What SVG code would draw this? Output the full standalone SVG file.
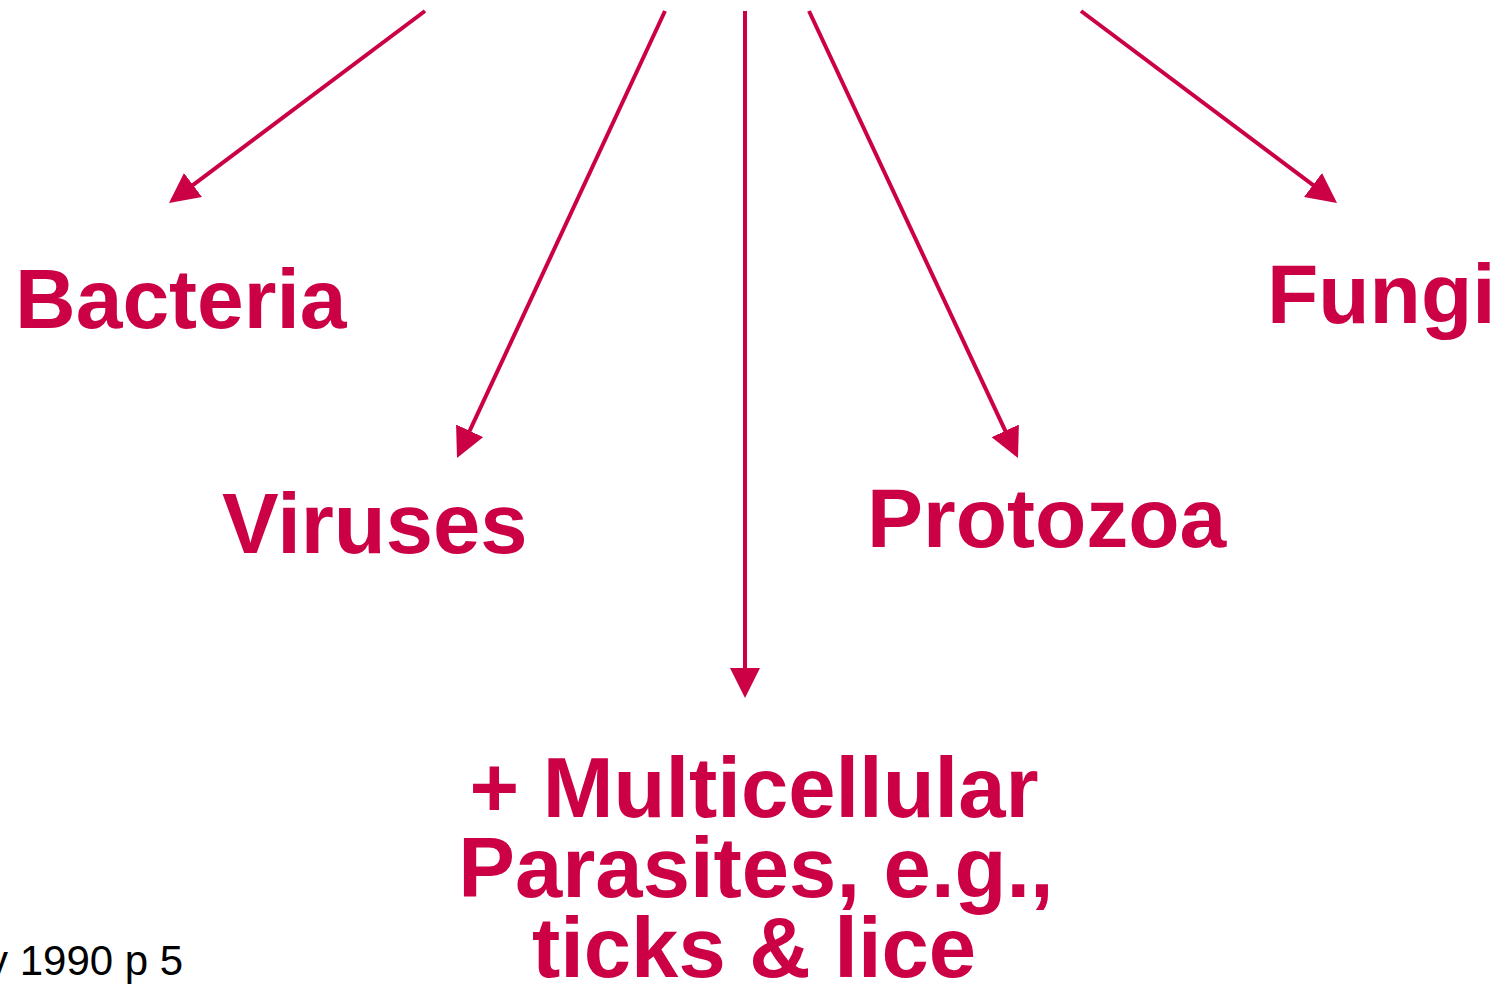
<svg xmlns="http://www.w3.org/2000/svg" width="1503" height="984" viewBox="0 0 1503 984">
<style>
.lbl{font-family:"Liberation Sans",Arial,sans-serif;font-weight:bold;font-size:84px;fill:#CC0044}
.big{font-size:85px}
.note{font-family:"Liberation Sans",Arial,sans-serif;font-size:42px;fill:#000}
.con{stroke:#CC0044;stroke-width:4;fill:none}
</style>
<defs>
<marker id="ah" markerUnits="userSpaceOnUse" markerWidth="30" markerHeight="30" refX="26" refY="15" orient="auto">
<path d="M0,0 L30,15 L0,30 z" fill="#CC0044"/>
</marker>
</defs>
<rect width="1503" height="984" fill="#fff"/>
<g id="connectors">
<line class="con" x1="425" y1="11" x2="172.2" y2="200.6" marker-end="url(#ah)"/>
<line class="con" x1="665" y1="11" x2="458.7" y2="454.4" marker-end="url(#ah)"/>
<line class="con" x1="745" y1="11" x2="745" y2="694" marker-end="url(#ah)"/>
<line class="con" x1="809" y1="11" x2="1016.3" y2="454.4" marker-end="url(#ah)"/>
<line class="con" x1="1081" y1="11" x2="1333.8" y2="200.6" marker-end="url(#ah)"/>
</g>
<g id="bacteria"><text class="lbl" x="15" y="328">Bacteria</text></g>
<g id="viruses"><text class="lbl big" x="222" y="553">Viruses</text></g>
<g id="protozoa"><text class="lbl" x="867" y="547">Protozoa</text></g>
<g id="fungi"><text class="lbl" x="1267" y="323">Fungi</text></g>
<g id="multicellular">
<text class="lbl big" text-anchor="middle" x="754" y="817">+ Multicellular</text>
<text class="lbl big" text-anchor="middle" x="756" y="897">Parasites, e.g.,</text>
<text class="lbl big" text-anchor="middle" x="754" y="977">ticks &amp; lice</text>
</g>
<g id="note"><text class="note" x="-13" y="975">y 1990 p 5</text></g>
</svg>
